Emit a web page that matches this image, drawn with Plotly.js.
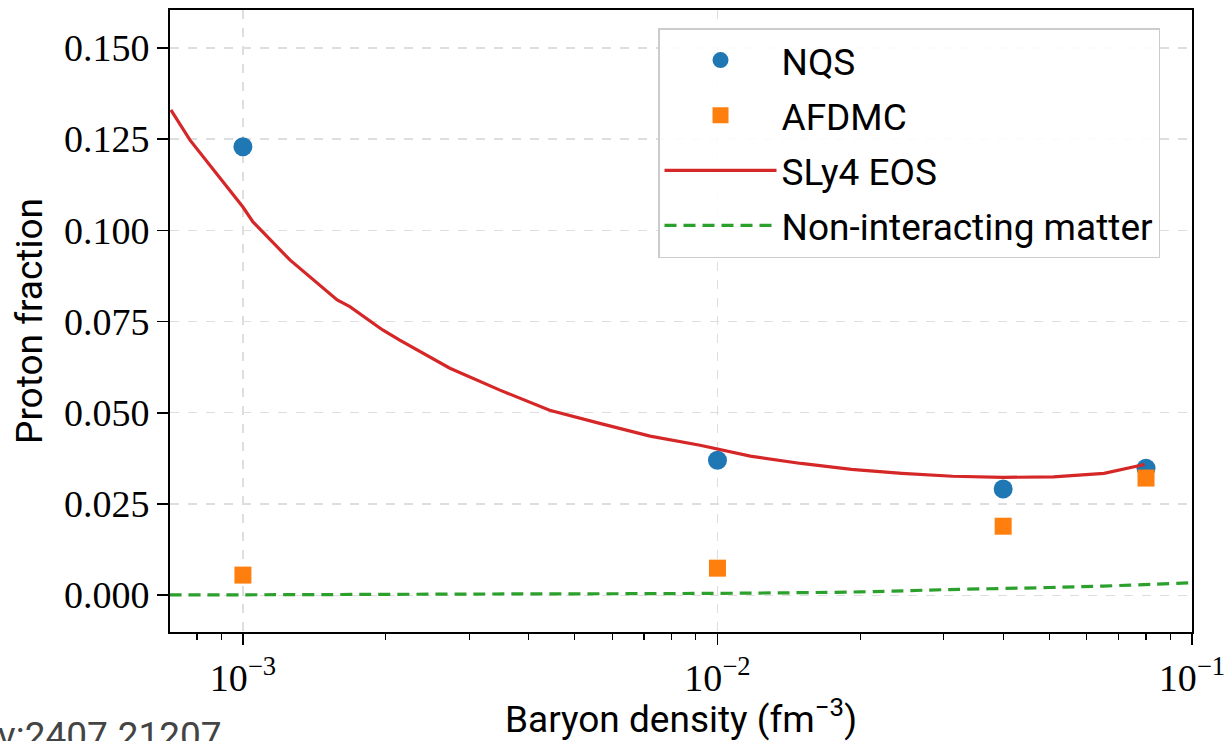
<!DOCTYPE html>
<html><head><meta charset="utf-8">
<script src="https://cdn.plot.ly/plotly-3.0.1.min.js"></script>
<style>html,body{margin:0;padding:0;background:#fff;}#plot{width:1225px;height:741px;}</style>
</head><body><div id="plot"></div>
<script>
// Data
const densities = [0.001, 0.01, 0.04, 0.08];
const nqs = [0.1229, 0.0370, 0.0291, 0.0348];
const nqsErr = [0.0004, 0.0004, 0.0004, 0.0004];
const afdmc = [0.0055, 0.0074, 0.0189, 0.0321];
const afdmcErr = [0.0003, 0.0003, 0.0003, 0.0003];

const sly4X = [0.000705, 0.000773, 0.001, 0.00105, 0.001256, 0.00158, 0.00168, 0.00197, 0.00214, 0.00273, 0.00348, 0.00443, 0.00565, 0.00721, 0.00919, 0.01173, 0.0150, 0.01916, 0.02447, 0.03128, 0.03997, 0.05106, 0.06525, 0.0794];
const sly4Y = [0.1330, 0.1248, 0.1064, 0.1023, 0.0919, 0.0809, 0.0791, 0.0727, 0.0699, 0.0622, 0.0562, 0.0507, 0.0471, 0.0436, 0.0411, 0.0381, 0.0361, 0.0345, 0.0334, 0.0326, 0.0323, 0.0324, 0.0334, 0.0358];

const freeX = [0.0007, 0.001, 0.003, 0.01, 0.02, 0.03, 0.05, 0.065, 0.1];
const freeY = [0.0001, 0.0001, 0.0003, 0.0005, 0.0009, 0.0015, 0.0021, 0.0025, 0.0034];

const xTickVals = [0.001, 0.01, 0.1];
const xTickText = ['10<sup>−3</sup>', '10<sup>−2</sup>', '10<sup>−1</sup>'];
const xMinorTicks = [0.0007, 0.0008, 0.0009, 0.002, 0.003, 0.004, 0.005, 0.006, 0.007, 0.008, 0.009,
                     0.02, 0.03, 0.04, 0.05, 0.06, 0.07, 0.08, 0.09];
const yTickVals = [0, 0.025, 0.05, 0.075, 0.1, 0.125, 0.15];

const sans = 'Roboto, "DejaVu Sans", sans-serif';
const serif = '"Liberation Serif", "DejaVu Serif", serif';

const traces = [
  {x: densities, y: nqs, name: 'NQS', type: 'scatter', mode: 'markers',
   marker: {symbol: 'circle', size: 19, color: '#1f77b4'},
   error_y: {type: 'data', array: nqsErr, color: '#1f77b4', thickness: 2, width: 0},
   legendgroup: 'a'},
  {x: densities, y: afdmc, name: 'AFDMC', type: 'scatter', mode: 'markers',
   marker: {symbol: 'square', size: 17, color: '#ff7f0e'},
   error_y: {type: 'data', array: afdmcErr, color: '#ff7f0e', thickness: 2, width: 0},
   legendgroup: 'b'},
  {x: sly4X, y: sly4Y, name: 'SLy4 EOS', type: 'scatter', mode: 'lines',
   line: {color: '#d62728', width: 3.2}, legendgroup: 'c'},
  {x: freeX, y: freeY, name: 'Non-interacting matter', type: 'scatter', mode: 'lines',
   line: {color: '#2ca02c', width: 3.2, dash: '12px,7px', shape: 'spline'}, legendgroup: 'd'}
];

const layout = {
  width: 1225, height: 741,
  margin: {l: 170, r: 33, t: 10, b: 109},
  paper_bgcolor: '#fff', plot_bgcolor: '#fff',
  showlegend: true,
  xaxis: {
    type: 'log',
    range: [Math.log10(0.000702), -1],
    tickvals: xTickVals, ticktext: xTickText,
    ticks: 'outside', ticklen: 11, tickwidth: 1.5, tickcolor: '#000',
    tickfont: {family: serif, size: 38, color: '#000'},
    ticklabeloverflow: 'allow',
    showline: true, linecolor: '#000', linewidth: 2, mirror: true,
    showgrid: true, gridcolor: '#dedede', gridwidth: 1.3, griddash: 'dash',
    zeroline: false,
    minor: {tickmode: 'array', tickvals: xMinorTicks, ticks: 'outside', ticklen: 6, tickwidth: 1.2, tickcolor: '#000', showgrid: false},
    title: {text: 'Baryon density (fm<sup>−3</sup>)', font: {family: sans, size: 37, color: '#000'}, standoff: 12},
    automargin: false
  },
  yaxis: {
    range: [-0.0101, 0.1604],
    tickvals: yTickVals, tickformat: '.3f',
    ticks: 'outside', ticklen: 11, tickwidth: 1.5, tickcolor: '#000',
    tickfont: {family: serif, size: 38, color: '#000'},
    showline: true, linecolor: '#000', linewidth: 2, mirror: true,
    showgrid: true, gridcolor: '#dedede', gridwidth: 1.3, griddash: 'dash',
    zeroline: false,
    title: {text: 'Proton fraction', font: {family: sans, size: 37, color: '#000'}, standoff: 10},
    automargin: false
  },
  legend: {
    x: 0.4775, xanchor: 'left', y: 0.971, yanchor: 'top',
    bgcolor: 'rgba(255,255,255,0.9)', bordercolor: '#cccccc', borderwidth: 1.5,
    font: {family: sans, size: 37, color: '#000'},
    traceorder: 'grouped', tracegroupgap: 4, itemwidth: 112
  },
  annotations: [
    {xref: 'paper', yref: 'paper', x: (224 - 170) / 1022, xanchor: 'right',
     y: (632 - 712) / 622, yanchor: 'top', showarrow: false,
     text: 'arXiv:2407.21207', font: {family: sans, size: 37, color: '#444'}}
  ]
};

Plotly.newPlot('plot', traces, layout, {displayModeBar: false, staticPlot: true});
</script></body></html>
